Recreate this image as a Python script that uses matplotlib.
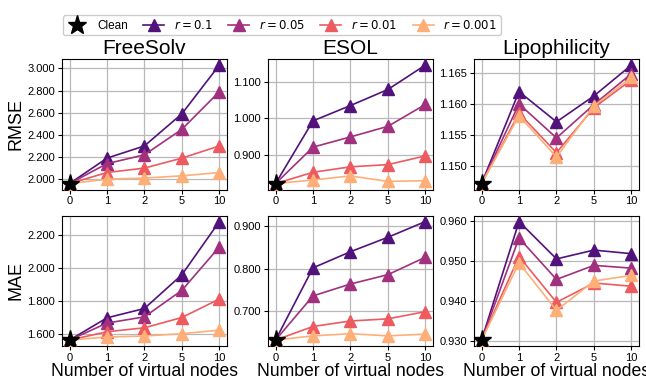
import numpy as np
import matplotlib
matplotlib.use("Agg")
import matplotlib.pyplot as plt
from matplotlib.ticker import FormatStrFormatter, MultipleLocator

plt.rcParams['font.family'] = ['Liberation Sans', 'DejaVu Sans']

# x axis is categorical: number of virtual nodes
n_nodes = ["0", "1", "2", "5", "10"]
datasets = ["FreeSolv", "ESOL", "Lipophilicity"]
metrics = ["RMSE", "MAE"]
ratios = ["0.1", "0.05", "0.01", "0.001"]

# clean baseline (x = 0) per metric / dataset
clean_rmse = [1.960, 0.821, 1.1471]
clean_mae = [1.561, 0.632, 0.9303]

# values at 1, 2, 5, 10 virtual nodes, one row per r
freesolv_rmse = [[2.19, 2.30, 2.59, 3.03],
                 [2.14, 2.22, 2.45, 2.79],
                 [2.06, 2.10, 2.19, 2.30],
                 [2.00, 2.01, 2.03, 2.06]]
esol_rmse = [[0.993, 1.035, 1.079, 1.146],
             [0.921, 0.949, 0.978, 1.038],
             [0.852, 0.867, 0.873, 0.897],
             [0.831, 0.842, 0.827, 0.829]]
lipo_rmse = [[1.1620, 1.1571, 1.1613, 1.1663],
             [1.1600, 1.1545, 1.1599, 1.1649],
             [1.1585, 1.1521, 1.1594, 1.1639],
             [1.1581, 1.1514, 1.1597, 1.1643]]
freesolv_mae = [[1.697, 1.754, 1.960, 2.285],
                [1.665, 1.703, 1.865, 2.130],
                [1.612, 1.636, 1.699, 1.812],
                [1.580, 1.586, 1.600, 1.622]]
esol_mae = [[0.802, 0.840, 0.874, 0.911],
            [0.736, 0.764, 0.786, 0.827],
            [0.664, 0.677, 0.682, 0.699],
            [0.642, 0.647, 0.642, 0.646]]
lipo_mae = [[0.9598, 0.9505, 0.9527, 0.9518],
            [0.9557, 0.9454, 0.9489, 0.9482],
            [0.9511, 0.9397, 0.9445, 0.9437],
            [0.9495, 0.9377, 0.9450, 0.9464]]

values = [[freesolv_rmse, esol_rmse, lipo_rmse],
          [freesolv_mae, esol_mae, lipo_mae]]
clean = [clean_rmse, clean_mae]
ysteps = [[0.2, 0.1, 0.005], [0.2, 0.1, 0.01]]

colors = plt.cm.magma([0.25, 0.45, 0.65, 0.83])

fig, axes = plt.subplots(2, 3, figsize=(6.46, 3.79), dpi=100)
fig.subplots_adjust(left=0.096, right=0.989, top=0.844, bottom=0.087,
                    wspace=0.25, hspace=0.2)

x = np.arange(len(n_nodes))
for i in range(2):
    for j in range(3):
        ax = axes[i, j]
        for k, r in enumerate(ratios):
            y = [clean[i][j]] + values[i][j][k]
            ax.plot(x, y, marker="^", markersize=8, linewidth=1.2,
                    color=colors[k], label=r"$r = %s$" % r, zorder=3)
        ax.plot([0], [clean[i][j]], marker="*", markersize=14, color="black",
                linestyle="none", label="Clean", zorder=5)
        ax.set_xticks(x)
        ax.set_xticklabels(n_nodes)
        ax.yaxis.set_major_locator(MultipleLocator(ysteps[i][j]))
        ax.yaxis.set_major_formatter(FormatStrFormatter("%.3f"))
        ax.tick_params(labelsize=8, length=3, pad=2)
        ax.grid(True, color="#b8b8b8", linewidth=0.9)
        ax.set_axisbelow(True)
        if i == 0:
            ax.set_title(datasets[j], fontsize=15, pad=4)
        else:
            ax.set_xlabel("Number of virtual nodes", fontsize=12.7, labelpad=0)
        if j == 0:
            ax.set_ylabel(metrics[i], fontsize=13, labelpad=2)

h, l = axes[0, 0].get_legend_handles_labels()
order = [4, 0, 1, 2, 3]
fig.legend([h[o] for o in order], [l[o] for o in order], loc="upper center",
           bbox_to_anchor=(0.436, 0.975), ncol=5, fontsize=8.5,
           handlelength=1.8, columnspacing=1.3, handletextpad=0.8,
           borderpad=0.3, framealpha=1)

fig.savefig("out.png", dpi=100)
